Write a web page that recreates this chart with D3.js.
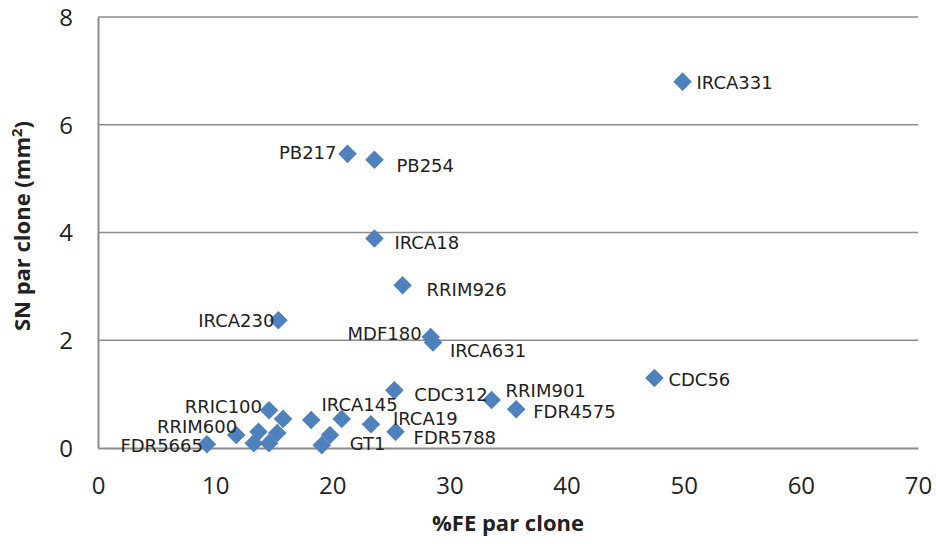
<!DOCTYPE html>
<meta charset="utf-8">
<style>
body { margin: 0; background: #fff; }
.tick text { font-family: "Liberation Sans Narrow", "Open Sans", sans-serif; font-size: 24px; fill: #222; }
.lbl { font-family: "DejaVu Sans", sans-serif; font-size: 18px; fill: #222; }
.title { font-family: "Liberation Sans Narrow", "Open Sans", sans-serif; font-size: 22px; font-weight: bold; fill: #222; }
</style>
<svg width="936" height="544"></svg>
<script src="https://d3js.org/d3.v7.min.js"></script>
<script>

// clone names, %FE and SN (mm2)
var clones = ["IRCA331", "PB217", "PB254", "IRCA18", "RRIM926", "IRCA230", "MDF180", "IRCA631",
              "CDC56", "CDC312", "RRIM901", "FDR4575", "FDR5788", "IRCA19", "IRCA145", "GT1",
              "RRIC100", "RRIM600", "FDR5665", "", "", "", "", "", "", ""];
var fe = [49.9, 21.3, 23.6, 23.6, 26.0, 15.4, 28.4, 28.6,
          47.5, 25.3, 33.6, 35.7, 25.4, 23.3, 20.8, 19.1,
          14.6, 11.8, 9.3, 15.8, 18.2, 13.7, 13.3, 14.6, 15.3, 19.8];
var sn = [6.80, 5.46, 5.35, 3.89, 3.02, 2.37, 2.06, 1.96,
          1.30, 1.07, 0.89, 0.72, 0.30, 0.44, 0.54, 0.05,
          0.70, 0.24, 0.07, 0.54, 0.52, 0.30, 0.09, 0.09, 0.28, 0.24];

var xTicks = [0, 10, 20, 30, 40, 50, 60, 70];
var yTicks = [0, 2, 4, 6, 8];

// label placement relative to the marker (dx, dy, anchor)
var labelPos = {
  IRCA331: [14, 1, "start"], PB217: [-11, -1, "end"], PB254: [22, 6, "start"],
  IRCA18: [20, 4, "start"], RRIM926: [24, 4, "start"], IRCA230: [-4, 0, "end"],
  MDF180: [-9, -3, "end"], IRCA631: [17, 8, "start"], CDC56: [14, 2, "start"],
  CDC312: [20, 4, "start"], RRIM901: [14, -9, "start"], FDR4575: [17, 2, "start"],
  FDR5788: [18, 6, "start"], IRCA19: [22, -6, "start"], IRCA145: [18, -14, "middle"],
  GT1: [28, -2, "start"], RRIC100: [-7, -4, "end"], RRIM600: [1, -8, "end"],
  FDR5665: [-4, 1, "end"]
};

var data = fe.map(function(v, i) { return {name: clones[i], fe: v, sn: sn[i]}; });

var svg = d3.select("svg"),
    margin = {top: 17, right: 18, bottom: 96, left: 98},
    width = 936 - margin.left - margin.right,
    height = 544 - margin.top - margin.bottom,
    g = svg.append("g").attr("transform", "translate(" + margin.left + "," + margin.top + ")");

var x = d3.scaleLinear().domain([0, 70]).range([0, width]),
    y = d3.scaleLinear().domain([0, 8]).range([height, 0]);

// gridlines
g.append("g")
    .selectAll("line")
    .data(yTicks.slice(1))
    .enter().append("line")
      .attr("x1", 0).attr("x2", width)
      .attr("y1", function(d) { return y(d); })
      .attr("y2", function(d) { return y(d); })
      .attr("stroke", "#8c8c8c").attr("stroke-width", 1.3);

var xAxis = g.append("g")
    .attr("transform", "translate(0," + height + ")")
    .call(d3.axisBottom(x).tickValues(xTicks).tickSize(0).tickPadding(29));
xAxis.select(".domain").attr("stroke", "#8c8c8c").attr("stroke-width", 2);

var yAxis = g.append("g")
    .call(d3.axisLeft(y).tickValues(yTicks).tickSize(0).tickPadding(25));
yAxis.select(".domain").attr("stroke", "#8c8c8c").attr("stroke-width", 2);
yAxis.selectAll(".tick text").attr("dy", "0.35em");

// markers
var diamond = d3.symbol().type(d3.symbolDiamond2).size(220);
g.selectAll(".pt")
    .data(data)
    .enter().append("path")
      .attr("class", "pt")
      .attr("d", diamond)
      .attr("transform", function(d) { return "translate(" + x(d.fe) + "," + y(d.sn) + ")"; })
      .attr("fill", "#4f81bd");

g.selectAll(".lbl")
    .data(data.filter(function(d) { return d.name; }))
    .enter().append("text")
      .attr("class", "lbl")
      .attr("x", function(d) { return x(d.fe) + labelPos[d.name][0]; })
      .attr("y", function(d) { return y(d.sn) + labelPos[d.name][1]; })
      .attr("dy", "0.35em")
      .attr("text-anchor", function(d) { return labelPos[d.name][2]; })
      .text(function(d) { return d.name; });

svg.append("text")
    .attr("class", "title")
    .attr("x", 508)
    .attr("y", 531)
    .attr("text-anchor", "middle")
    .text("%FE par clone");

svg.append("text")
    .attr("class", "title")
    .attr("transform", "translate(30," + 226 + ") rotate(-90)")
    .attr("text-anchor", "middle")
    .html("SN par clone (mm<tspan dy='-8' font-size='15'>2</tspan><tspan dy='8'>)</tspan>");

</script>
